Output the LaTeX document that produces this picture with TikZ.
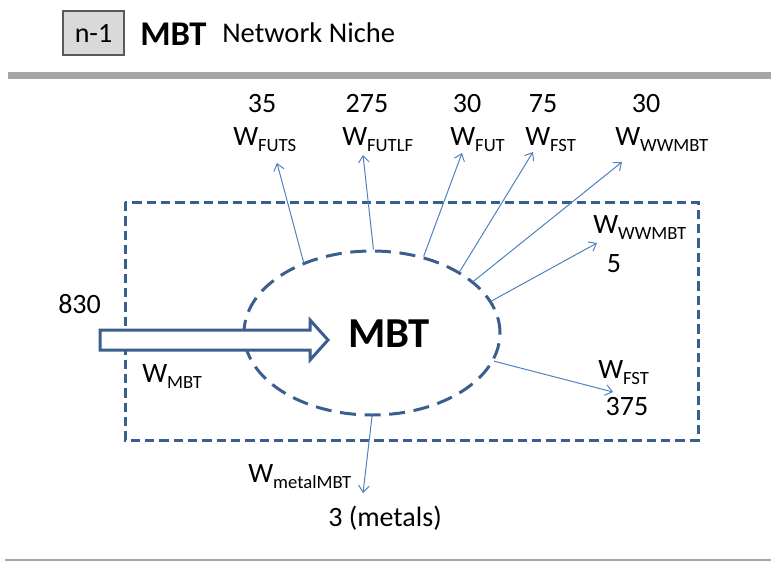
\documentclass[tikz,border=0pt]{standalone}
\usepackage{fontspec}
\setmainfont{Carlito}
\usepackage{tikz}
\usetikzlibrary{shapes.geometric}
\usetikzlibrary{arrows.meta}
\definecolor{nicheblue}{HTML}{3A5F8F}
\definecolor{flowblue}{HTML}{4F81BD}
\definecolor{bargray}{HTML}{A6A6A6}
\definecolor{tabgray}{HTML}{D9D9D9}
\newcommand{\wlab}[1]{W\raisebox{-5pt}{\fontsize{14}{14}\selectfont #1}}
\tikzset{
	lbl/.style={inner sep=0pt, font=\fontsize{21}{25}\selectfont},
	flow/.style={flowblue, line width=0.75pt, -{Straight Barb[length=5pt,width=8pt]}},
	niche/.style={nicheblue, line width=2.25pt, dash pattern=on 7pt off 3.75pt},
	unit/.style={ellipse, draw=nicheblue, line width=2.25pt, dash pattern=on 12pt off 6.5pt,
		minimum width=192pt, minimum height=123pt, inner sep=0pt}
}

\begin{document}
\begin{tikzpicture}[x=0.75pt, y=-0.75pt]
	\useasboundingbox (0,0) rectangle (771,561);
	
	% Title line
	\node[draw=black!65, fill=tabgray, line width=1pt, minimum width=45.75pt, minimum height=33pt,
		inner sep=0pt, font=\fontsize{21}{25}\selectfont] (tab) at (93.5,33) {n-1};
	\node[anchor=base west, inner sep=0pt, font=\fontsize{26}{30}\selectfont\bfseries] (ttl) at (140,45) {MBT};
	\node[anchor=base west, inner sep=0pt, font=\fontsize{21.4}{25}\selectfont] (sub) at (222,42) {Network Niche};
	\draw[bargray, line width=5.25pt] (8,75.5) -- (771,75.5);
	\draw[bargray, line width=1.5pt] (5,559.5) -- (771,559.5);
	
	% Niche boundary and unit
	\draw[niche] (125,202) rectangle (698,440);
	\node[unit] (mbt) at (372,333) {};
	\node[anchor=base, inner sep=0pt, font=\fontsize{32}{36}\selectfont\bfseries] (mbtname) at (389,347) {MBT};
	
	% Outflows at the top
	\foreach \val/\sub/\vx/\lx/\ang/\tx/\ty [count=\k] in {35/FUTS/262/233/134/277/163,
		275/FUTLF/367/342/89/363/155, 30/FUT/467/450/56/462/153,
		75/FST/543/525/35/533/152, 30/WWMBT/646/615/27/622/162} {
		\node[lbl, anchor=base] (v\k) at (\vx,112) {\val};
		\node[lbl, anchor=base west] (w\k) at (\lx,145) {\wlab{\sub}};
		\coordinate (t\k) at (\tx,\ty);
		\draw[flow] (mbt.\ang) -- (t\k);
	}
	
	% Outflows inside the niche and below
	\node[lbl, anchor=base west] (wwin) at (593,233) {\wlab{WWMBT}};
	\node[lbl, anchor=base] (vwin) at (614,272) {5};
	\coordinate (twin) at (597,243);
	\draw[flow] (mbt.15) -- (twin);
	
	\node[lbl, anchor=base west] (fstin) at (598,378) {\wlab{FST}};
	\node[lbl, anchor=base] (vfstin) at (627,415) {375};
	\coordinate (tfstin) at (613,392);
	\draw[flow] (mbt.-13) -- (tfstin);
	
	\node[lbl, anchor=base west] (metal) at (248,482) {\wlab{metalMBT}};
	\node[lbl, anchor=base west] (vmetal) at (328,526) {3 (metals)};
	\coordinate (tmetal) at (363,493);
	\draw[flow] (mbt.-90) -- (tmetal);
	
	% Input
	\node[lbl, anchor=base west] (vin) at (58,313) {830};
	\node[lbl, anchor=base west] (win) at (142,382) {\wlab{MBT}};
	\draw[nicheblue, fill=white, line width=2.25pt, line join=miter]
		(100,330) -- (310,330) -- (310,320) -- (328,340) -- (310,360) -- (310,350) -- (100,350) -- cycle;
	
\end{tikzpicture}
\end{document}
